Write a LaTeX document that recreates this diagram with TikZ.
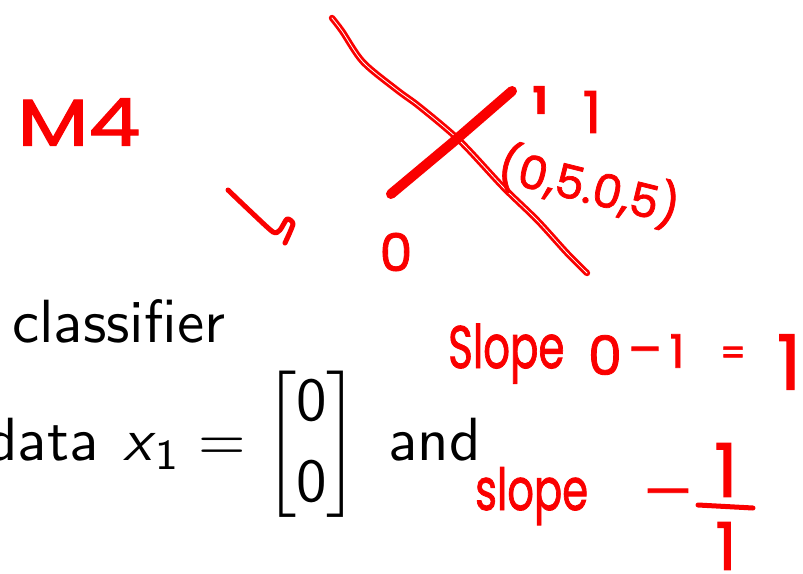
\documentclass[tikz,border=0pt]{standalone}
\usepackage{fontspec}
\usepackage{amsmath}
\usepackage{graphicx}
\newfontfamily\handfont{Poppins}[FakeBold=1.6]
\definecolor{ink}{RGB}{250,0,0}
\tikzset{
  slide/.style={anchor=base west, inner sep=0pt, text=black},
  hand/.style={text=ink, inner sep=0pt},
  pen/.style={draw=ink, line width=5pt, line cap=round, line join=round},
}
\newcommand{\hs}[2]{\handfont\fontsize{#1}{#1}\selectfont #2}
\begin{document}
\begin{tikzpicture}[x=1pt,y=-1pt]
\fill[white] (0,0) rectangle (803,573);
\clip (0,0) rectangle (803,573);
% slide text
\node[slide] (cls) at (12,342) {\scalebox{6.1}{\sffamily classifier}};
\node[slide] (data) at (-14,460) {\scalebox{6.1}{\sffamily data}};
\node[slide] (x1) at (123,460) {\scalebox{6.1}{$\textsf{\textit{x}}_{\textsf{1}}$}};
\node[slide] (eq) at (198,460) {\scalebox{6.1}{$=$}};
\node[slide] (mat) at (264,460) {\scalebox{6.1}{$\renewcommand{\arraystretch}{1.1}\begin{bmatrix}\textsf{0}\\\textsf{0}\end{bmatrix}$}};
\node[slide] (and) at (388,460) {\scalebox{6.1}{\sffamily and}};
% handwritten strokes
\draw[pen, line width=2.8pt, double=white, double distance=0.8pt]
  plot[smooth, tension=0.5] coordinates {(332,18) (342,31) (363,62) (397,90) (420,107) (460,141) (503,187) (537,220) (567,253) (587,273)};
\draw[pen, line width=10pt] (391,194) -- (452,143) -- (512,91);
\draw[pen] plot[smooth, tension=0.4] coordinates {(228,190) (250,211) (273,232) (280,230) (287,219) (293,224) (285,243)};
% handwritten text
\node[hand] (m4) at (79,122) {\hs{66}{\scalebox{1.25}[1]{M4}}};
\node[hand] (zero) at (396,252) {\hs{52}{0}};
\node[hand] (oneA) at (540,100) {\hs{38}{\bfseries 1}};
\node[hand] (oneB) at (592,112) {\hs{58}{1}};
\node[hand, rotate=-14] (pt) at (589,186) {\hs{46}{(0,5.0,5)}};
\node[hand, anchor=base west] (slope1) at (448,368) {\hs{60}{\scalebox{0.7}[1]{Slope}}};
\node[hand] (s0) at (605,355) {\hs{54}{0}};
\node[hand] (sm) at (645,357) {\hs{50}{–}};
\node[hand] (s1) at (677,351) {\hs{46}{1}};
\node[hand] (seq) at (733,356) {\hs{36}{=}};
\node[hand] (s2) at (789,362) {\hs{76}{1}};
\node[hand, anchor=base west] (slope2) at (475,510) {\hs{58}{\scalebox{0.72}[1]{slope}}};
\node[hand] (neg) at (668,499) {\hs{50}{\scalebox{1.5}[1]{–}}};
\node[hand] (num) at (726,470) {\hs{74}{1}};
\node[hand] (den) at (726,546) {\hs{66}{1}};
\draw[pen] (698,505) -- (753,508);
\end{tikzpicture}
\end{document}
